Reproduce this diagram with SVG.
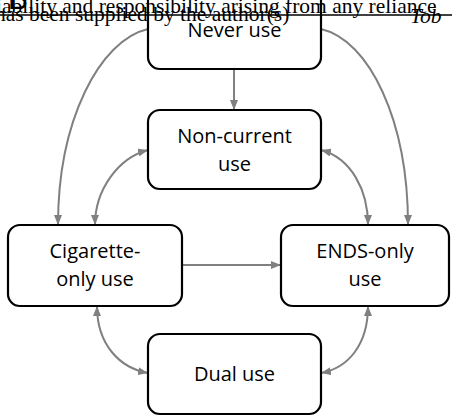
<svg xmlns="http://www.w3.org/2000/svg" width="452" height="416" viewBox="0 0 452 416">
<style>
.box{fill:#fff;stroke:#000;stroke-width:2.2}
.lbl{font-family:"Open Sans","Liberation Sans",sans-serif;font-size:20px;fill:#000;text-anchor:middle}
.hdr{font-family:"Liberation Serif","Times New Roman",serif;font-size:21.5px;fill:#000}
.con{fill:none;stroke:#808080;stroke-width:2}
</style>
<defs>
<marker id="ah" viewBox="0 0 10 8" refX="10" refY="4" markerWidth="10" markerHeight="8" markerUnits="userSpaceOnUse" orient="auto-start-reverse">
<path d="M0,0 L10,4 L0,8 Z" fill="#808080"/>
</marker>
</defs>
<g id="connectors">
<path class="con" d="M234,69 L234,110" marker-end="url(#ah)"/>
<path class="con" d="M148,29 C100,40 58,120 58,225" marker-end="url(#ah)"/>
<path class="con" d="M321,29 C369,40 408,120 408,225" marker-end="url(#ah)"/>
<path class="con" d="M148,150 C118,158 95,190 95,225" marker-start="url(#ah)" marker-end="url(#ah)"/>
<path class="con" d="M321,150 C351,158 368,190 368,225" marker-start="url(#ah)" marker-end="url(#ah)"/>
<path class="con" d="M182,265 L281,265" marker-end="url(#ah)"/>
<path class="con" d="M97,306 C97,345 120,368 148,373" marker-start="url(#ah)" marker-end="url(#ah)"/>
<path class="con" d="M368,306 C368,345 348,368 321,373" marker-start="url(#ah)" marker-end="url(#ah)"/>
</g>
<g id="never">
<rect class="box" x="148" y="-12" width="173" height="81" rx="12"/>
<text class="lbl" x="234.5" y="37">Never use</text>
</g>
<g id="noncurrent">
<rect class="box" x="148" y="110" width="173" height="79" rx="12"/>
<text class="lbl" x="234.5" y="143">Non-current</text>
<text class="lbl" x="234.5" y="171">use</text>
</g>
<g id="cigarette">
<rect class="box" x="8" y="225" width="174" height="81" rx="12"/>
<text class="lbl" x="95" y="258">Cigarette-</text>
<text class="lbl" x="95" y="286">only use</text>
</g>
<g id="ends">
<rect class="box" x="281" y="225" width="168" height="81" rx="12"/>
<text class="lbl" x="365" y="258">ENDS-only</text>
<text class="lbl" x="365" y="286">use</text>
</g>
<g id="dual">
<rect class="box" x="148" y="334" width="173" height="80" rx="12"/>
<text class="lbl" x="234.5" y="381">Dual use</text>
</g>
<g id="header">
<text x="8" y="9" style="font-family:'Liberation Sans',sans-serif;font-size:30px">B</text>
<text class="hdr" x="-4" y="13">iability and responsibility arising from any reliance</text>
<text class="hdr" x="-5" y="21">has been supplied by the author(s)</text>
<text class="hdr" x="410" y="23" font-style="italic">Tob</text>
<line x1="0" y1="15" x2="452" y2="15" stroke="#000" stroke-width="1.3"/>
</g>
</svg>
